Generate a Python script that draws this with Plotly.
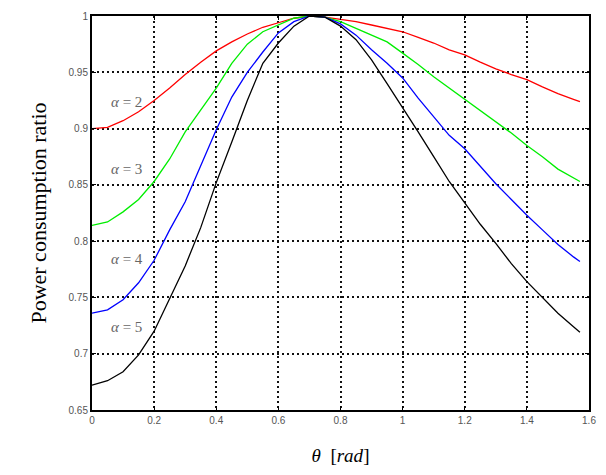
import plotly.graph_objects as go

theta = [0, 0.05, 0.1, 0.15, 0.2, 0.25, 0.3, 0.35, 0.4, 0.45, 0.5, 0.55, 0.6, 0.65, 0.7, 0.75,
         0.8, 0.85, 0.9, 0.95, 1.0, 1.05, 1.1, 1.15, 1.2, 1.25, 1.3, 1.35, 1.4, 1.45, 1.5, 1.55, 1.5708]

ratio_a2 = [0.900, 0.901, 0.907, 0.915, 0.925, 0.936, 0.948, 0.959, 0.969, 0.977, 0.984, 0.990, 0.994, 0.998, 1.0, 0.999,
            0.997, 0.995, 0.992, 0.989, 0.986, 0.981, 0.976, 0.970, 0.9655, 0.959, 0.953, 0.948, 0.9435, 0.937, 0.931, 0.926, 0.924]
ratio_a3 = [0.814, 0.817, 0.826, 0.837, 0.853, 0.873, 0.897, 0.917, 0.936, 0.958, 0.975, 0.986, 0.992, 0.998, 1.0, 0.999,
            0.995, 0.989, 0.983, 0.977, 0.967, 0.957, 0.946, 0.936, 0.926, 0.916, 0.906, 0.896, 0.885, 0.875, 0.864, 0.856, 0.853]
ratio_a4 = [0.736, 0.739, 0.748, 0.763, 0.783, 0.810, 0.835, 0.867, 0.899, 0.928, 0.950, 0.968, 0.985, 0.995, 1.0, 0.999,
            0.993, 0.983, 0.970, 0.958, 0.945, 0.927, 0.910, 0.894, 0.882, 0.866, 0.851, 0.837, 0.823, 0.810, 0.797, 0.786, 0.782]
ratio_a5 = [0.672, 0.676, 0.684, 0.699, 0.720, 0.749, 0.778, 0.812, 0.852, 0.888, 0.925, 0.958, 0.976, 0.991, 1.0, 0.999,
            0.991, 0.979, 0.961, 0.940, 0.919, 0.897, 0.875, 0.853, 0.834, 0.815, 0.798, 0.780, 0.764, 0.750, 0.736, 0.724, 0.719]

series = [("α = 2", ratio_a2, "#ff0000"), ("α = 3", ratio_a3, "#00ee00"),
          ("α = 4", ratio_a4, "#0000ff"), ("α = 5", ratio_a5, "#000000")]

label_alpha = ["2", "3", "4", "5"]
label_x = [0.055, 0.055, 0.055, 0.055]
label_y = [0.924, 0.864, 0.784, 0.724]

x_ticks = [0, 0.2, 0.4, 0.6, 0.8, 1, 1.2, 1.4, 1.6]
x_tick_text = ["0", "0.2", "0.4", "0.6", "0.8", "1", "1.2", "1.4", "1.6"]
y_ticks = [0.65, 0.7, 0.75, 0.8, 0.85, 0.9, 0.95, 1]
y_tick_text = ["0.65", "0.7", "0.75", "0.8", "0.85", "0.9", "0.95", "1"]

fig = go.Figure()
for name, vals, col in series:
    fig.add_trace(go.Scatter(x=theta, y=vals, mode="lines", name=name,
                             line=dict(color=col, width=1.3)))

for a, lx, ly in zip(label_alpha, label_x, label_y):
    fig.add_annotation(x=lx, y=ly, text="<i>α</i> = " + a, showarrow=False,
                       xanchor="left", yanchor="middle",
                       font=dict(family="Liberation Serif, serif", size=15, color="#666666"))

axis_common = dict(showline=True, linecolor="black", linewidth=2, mirror="ticks",
                   ticks="inside", ticklen=4, tickcolor="black",
                   showgrid=True, gridcolor="#111111", gridwidth=1.6, griddash="2px,3px",
                   zeroline=False, tickfont=dict(family="Liberation Sans", size=10, color="#555555"))

fig.update_xaxes(range=[0, 1.6], tickvals=x_ticks, ticktext=x_tick_text,
                 title=dict(text="<i>θ</i>  [<i>rad</i>]", font=dict(family="Liberation Serif, serif", size=19, color="black"),
                            standoff=24), **axis_common)
fig.update_yaxes(range=[0.65, 1.0], tickvals=y_ticks, ticktext=y_tick_text,
                 title=dict(text="Power consumption ratio", font=dict(family="Liberation Serif, serif", size=22, color="black"),
                            standoff=16), **axis_common)

fig.update_layout(width=606, height=475, margin=dict(l=92, r=10, t=13, b=65),
                  plot_bgcolor="white", paper_bgcolor="white", showlegend=False)

fig.write_html("out.html")
